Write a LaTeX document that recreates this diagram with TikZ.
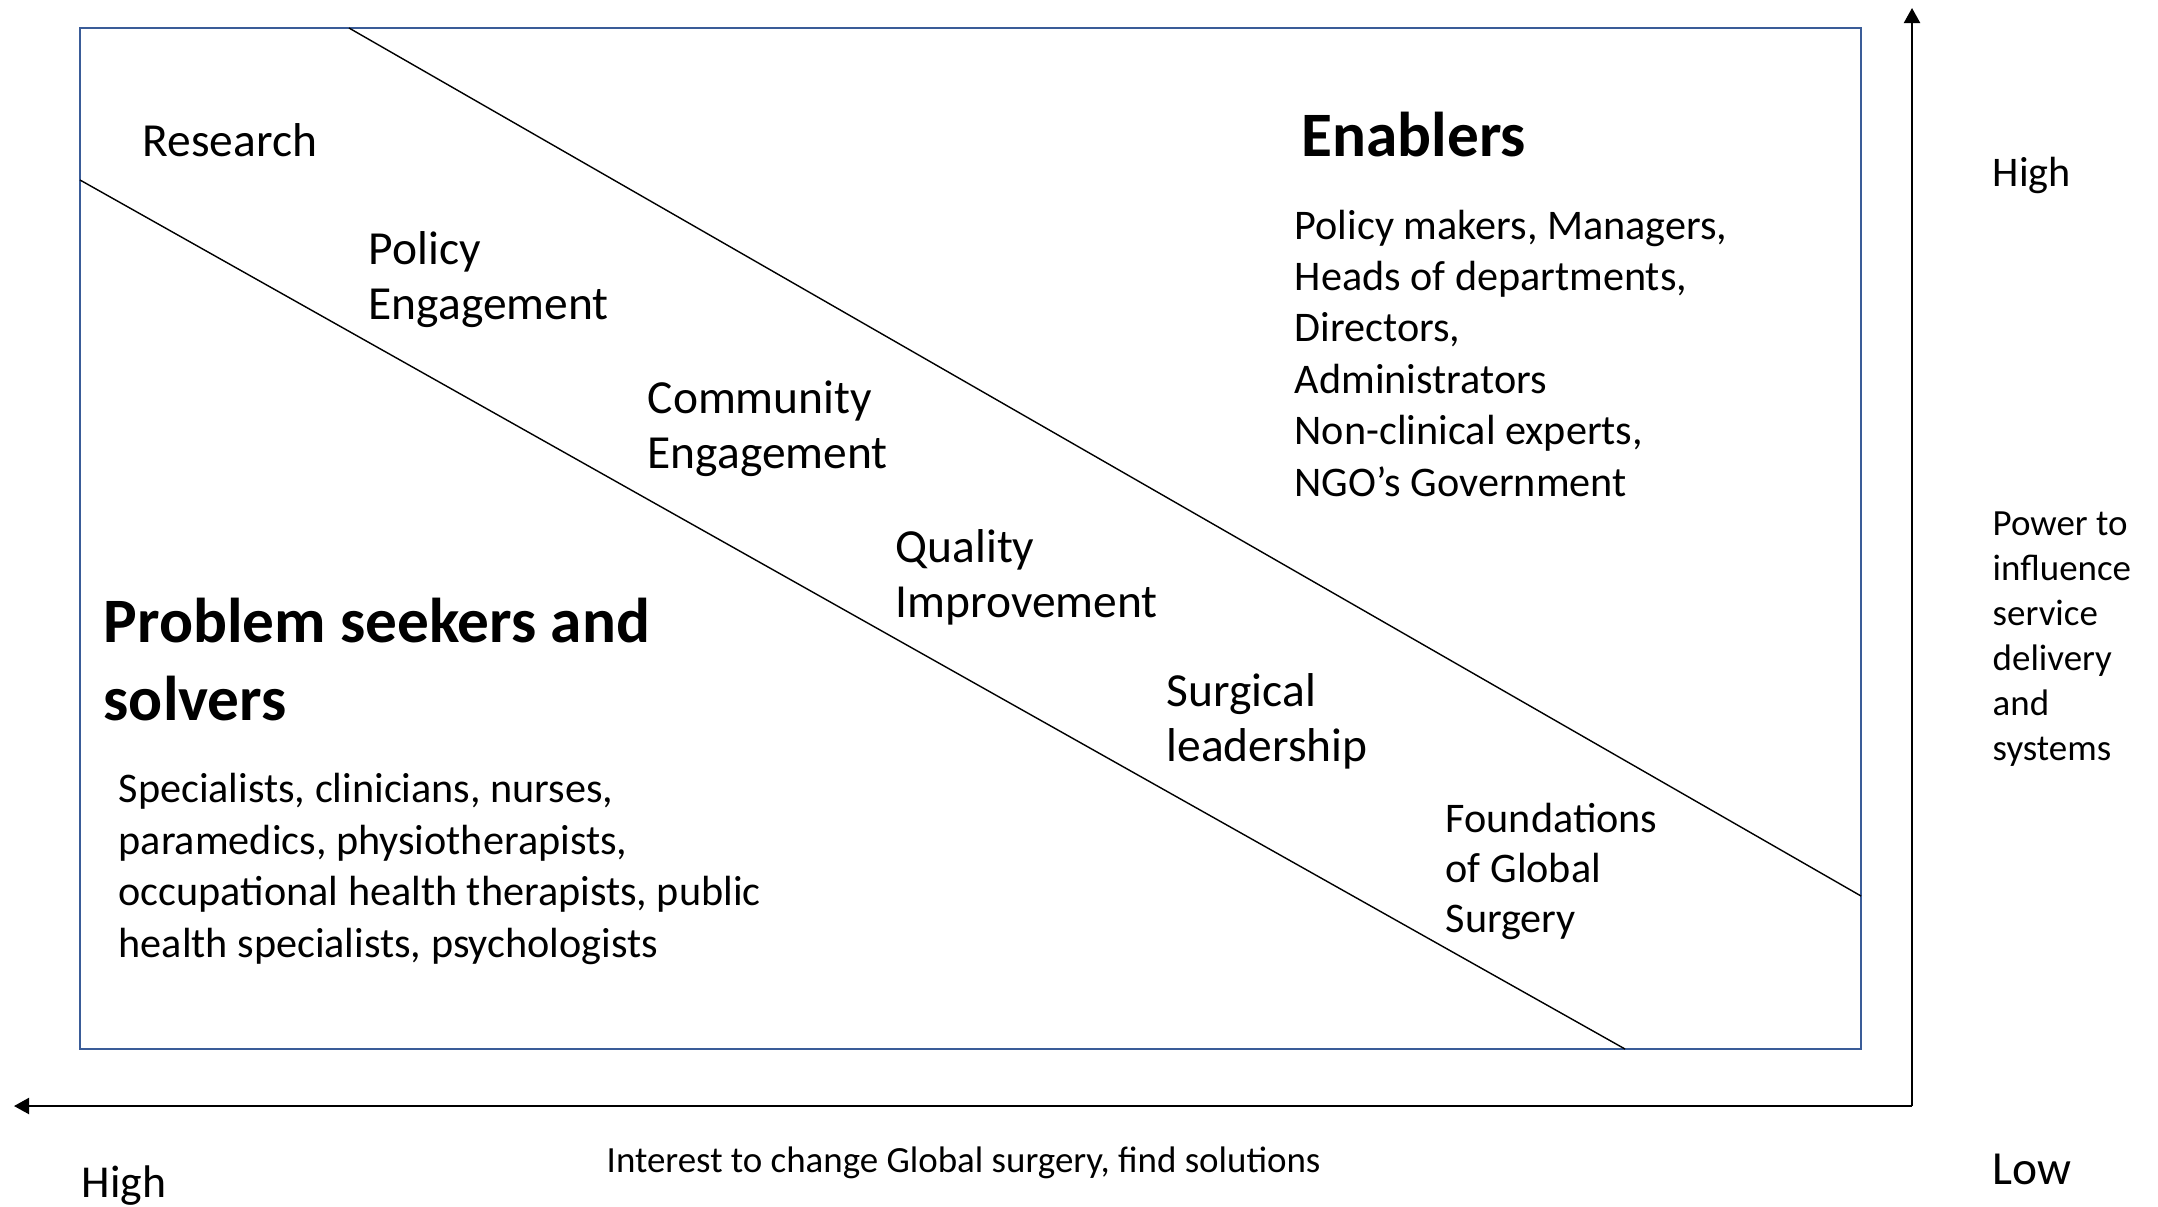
\documentclass[tikz,border=0pt]{standalone}
\usepackage{fontspec}
\setmainfont{Carlito}
\usetikzlibrary{arrows.meta}
\definecolor{boxblue}{RGB}{58,92,152}

\begin{document}
\begin{tikzpicture}[x=0.01cm,y=-0.01cm,
    theme/.style={anchor=base west,inner sep=0pt,align=left,font=\fontsize{13.5}{15.5}\selectfont},
    group/.style={anchor=base west,inner sep=0pt,align=left,font=\fontsize{18}{21.9}\selectfont\bfseries},
    members/.style={anchor=base west,inner sep=0pt,align=left,font=\fontsize{12}{14.6}\selectfont},
    axislabel/.style={anchor=base west,inner sep=0pt,align=left,font=\fontsize{10.5}{12.75}\selectfont},
    axis/.style={line width=0.6pt,-{Triangle[length=0.15cm,width=0.16cm]}}]
      \useasboundingbox (0,0) rectangle (2158,1206);

      \draw[boxblue,line width=0.7pt] (80,28) rectangle (1861,1049);

      % band between the two groups
      \coordinate (u1) at (349,28);
      \coordinate (u2) at (1861,896);
      \coordinate (l1) at (80,180);
      \coordinate (l2) at (1625,1049);
      \draw[line width=0.4pt] (u1) -- (u2);
      \draw[line width=0.4pt] (l1) -- (l2);

      \coordinate (o) at (1912,1106);
      \coordinate (ytip) at (1912,8);
      \coordinate (xtip) at (14,1106);
      \draw[axis] (o) -- (ytip);
      \draw[axis] (o) -- (xtip);

      % multi-line nodes sit on the baseline of their last line
      \node[theme] (research) at (142,156) {Research};
      \node[theme] (policy) at (368,319) {Policy\\Engagement};
      \node[theme] (community) at (647,468) {Community\\Engagement};
      \node[theme] (quality) at (895,617) {Quality\\Improvement};
      \node[theme] (surgical) at (1166,761) {Surgical\\leadership};
      \node[theme,font=\fontsize{12}{14.1}\selectfont] (foundations) at (1445,932) {Foundations\\of Global\\Surgery};

      \node[group] (enablers) at (1301,156) {Enablers};
      \node[members] (enablerlist) at (1294,496) {Policy makers, Managers,\\Heads of departments,\\Directors,\\Administrators\\Non-clinical experts,\\NGO’s Government};
      \node[group] (solvers) at (103,720) {Problem seekers and\\solvers};
      \node[members] (solverlist) at (118,957) {Specialists, clinicians, nurses,\\paramedics, physiotherapists,\\occupational health therapists, public\\health specialists, psychologists};

      \node[members] (powerhigh) at (1992,186) {High};
      \node[axislabel] (power) at (1992,760) {Power to\\influence\\service\\delivery\\and\\systems};
      \node[theme] (powerlow) at (1992,1184) {Low};
      \node[axislabel] (interest) at (606,1172) {Interest to change Global surgery, find solutions};
      \node[theme,font=\fontsize{13}{15}\selectfont] (interesthigh) at (81,1197) {High};
    \end{tikzpicture}
\end{document}
